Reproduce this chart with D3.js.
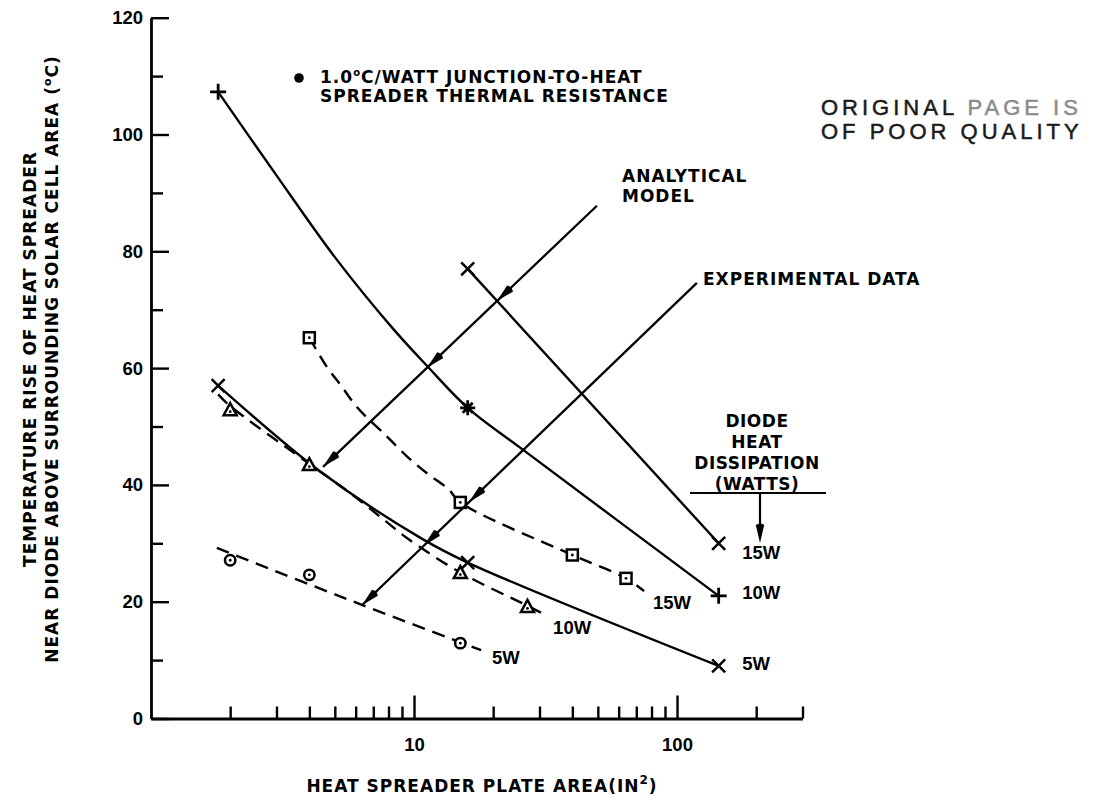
<!DOCTYPE html>
<html>
<head>
<meta charset="utf-8">
<script src="https://cdn.jsdelivr.net/npm/d3@7"></script>
<style>
  body { margin: 0; background: #fff; }
  svg text { font-family: "DejaVu Sans", sans-serif; font-weight: bold; fill: #000; font-size: 17px; letter-spacing: 1px; }
  svg text.num { font-family: "Liberation Sans", Arial, sans-serif; font-size: 18.5px; letter-spacing: 0; }
  svg text.stamp { font-family: "Liberation Sans", Arial, sans-serif; font-weight: normal; font-size: 22px;
                   letter-spacing: 4px; fill: #1a1a1a; stroke: #1a1a1a; stroke-width: 0.5px; }
</style>
</head>
<body>
<svg id="chart" width="1102" height="801"></svg>
<script>
// Temperature rise vs heat spreader plate area (log x).

const yTicks = [0, 20, 40, 60, 80, 100, 120];
const yMinorTicks = [10, 30, 50, 70, 90, 110];
const xTicks = [10, 100];
const xMinorTicks = [2, 3, 4, 5, 6, 7, 8, 9, 20, 30, 40, 50, 60, 70, 80, 90, 200, 300];

// analytical model (solid curves) and the points marked on them
const model15 = [[16, 77], [144, 30]];
const model10 = [[1.8, 107.3], [3, 93], [5, 79], [8.3, 66.8], [11.2, 60.4], [16, 53.2], [26, 46], [144, 21]];
const model5 = [[1.8, 57], [4.4, 42.3], [10.7, 30.8], [16, 26.7], [144, 9]];
const model15Marks = [[16, 77], [144, 30]];
const model10Marks = [[1.8, 107.3], [144, 21]];
const model10Star = [[16, 53.2]];
const model5Marks = [[1.8, 57], [16, 26.7], [144, 9]];

// experimental data (markers) and the dashed curves through them
const exp15 = [[4, 65.2], [15, 37], [40, 28], [64, 24]];
const exp10 = [[2, 52.8], [4, 43.4], [15, 24.9], [27, 19.1]];
const exp5 = [[2, 27.1], [4, 24.6], [15, 12.9]];
const exp15Fit = [[4, 65.2], [4.65, 60.3], [5.3, 56.9], [6.1, 53.2], [7.8, 48.5], [9.4, 44.9],
                  [11.2, 42], [13.5, 39.3], [15, 37], [40, 28], [64, 24], [75, 21.8]];
const exp10Fit = [[1.8, 55.5], [2, 53.5], [4, 43.6], [5.6, 38.9], [7.8, 33.8], [9.4, 30.9],
                  [15, 25], [27, 19.3], [32, 17.6]];
const exp5Fit = [[1.78, 29.2], [6.3, 19.5], [18, 11.7]];

// curve labels: [text, x, y] in data units (left edge, vertical centre)
const modelLabels = [["15W", 177, 28.5], ["10W", 177, 21.5], ["5W", 177, 9.5]];
const expLabels = [["15W", 81, 19.8], ["10W", 33.8, 15.5], ["5W", 19.8, 10.5]];

// leader lines from the notes, in data units, with arrow tips along them (fraction of length)
const modelPointer = [[49.6, 87.8], [4.51, 43.1]];
const modelTips = [0.365, 0.62, 1];
const expPointer = [[119, 74.6], [6.34, 19.4]];
const expTips = [0.68, 0.815, 1];

const svg = d3.select("#chart");
const x = d3.scaleLog().domain([1, 300]).range([151, 802.5]);
const y = d3.scaleLinear().domain([0, 120]).range([718.5, 17.7]);

// ---- axes
svg.append("g").attr("transform", "translate(151,0)")
  .call(d3.axisLeft(y).tickValues(yTicks).tickSize(-18).tickSizeOuter(0).tickPadding(8));
svg.append("g").attr("transform", "translate(151,0)")
  .call(d3.axisLeft(y).tickValues(yMinorTicks).tickSize(-12).tickFormat(""))
  .select(".domain").remove();
svg.append("g").attr("transform", "translate(0,718.5)")
  .call(d3.axisBottom(x).tickValues(xTicks).tickSize(-23).tickSizeOuter(0).tickPadding(19)
    .tickFormat(d3.format("d")));
svg.append("g").attr("transform", "translate(0,718.5)")
  .call(d3.axisBottom(x).tickValues(xMinorTicks).tickSize(-12).tickFormat(""))
  .select(".domain").remove();
svg.selectAll(".domain").attr("stroke-width", 2.8);
svg.selectAll(".tick line").attr("stroke-width", 2.4);
svg.selectAll(".tick text").attr("class", "num");

// axis titles
const yTitle = svg.append("g").attr("transform", "translate(0,359) rotate(-90)");
yTitle.append("text").attr("x", 0).attr("y", 36).attr("text-anchor", "middle")
  .text("TEMPERATURE RISE OF HEAT SPREADER");
const yt2 = yTitle.append("text").attr("x", 0).attr("y", 58).attr("text-anchor", "middle");
yt2.append("tspan").text("NEAR DIODE ABOVE SURROUNDING SOLAR CELL AREA (");
yt2.append("tspan").attr("dy", -7).style("font-size", "11px").text("o");
yt2.append("tspan").attr("dy", 7).text("C)");

const xt = svg.append("text").attr("x", 482).attr("y", 792).attr("text-anchor", "middle");
xt.append("tspan").text("HEAT SPREADER PLATE AREA(IN");
xt.append("tspan").attr("dy", -8).style("font-size", "12px").text("2");
xt.append("tspan").attr("dy", 8).text(")");

// ---- curves
const line = d3.line().x(d => x(d[0])).y(d => y(d[1])).curve(d3.curveCatmullRom.alpha(0.5));
const curves = svg.append("g").attr("fill", "none").attr("stroke", "#000").attr("stroke-width", 2.4);
[model15, model10, model5].forEach(s => curves.append("path").attr("d", line(s)));
[exp15Fit, exp10Fit, exp5Fit].forEach(s =>
  curves.append("path").attr("d", line(s)).attr("stroke-dasharray", "13,8"));

// ---- markers
const mk = svg.append("g").attr("stroke", "#000").attr("stroke-width", 2.5).attr("fill", "none");
function cross(d) {
  const cx = x(d[0]), cy = y(d[1]), r = 6.5;
  mk.append("path").attr("d", `M${cx - r},${cy - r}L${cx + r},${cy + r}M${cx - r},${cy + r}L${cx + r},${cy - r}`);
}
function plus(d) {
  const cx = x(d[0]), cy = y(d[1]), r = 8;
  mk.append("path").attr("d", `M${cx - r},${cy}H${cx + r}M${cx},${cy - r}V${cy + r}`).attr("stroke-width", 2.8);
}
function star(d) {
  const cx = x(d[0]), cy = y(d[1]), r = 7.5, q = 5;
  mk.append("path").attr("d",
    `M${cx - r},${cy}H${cx + r}M${cx},${cy - r}V${cy + r}M${cx - q},${cy - q}L${cx + q},${cy + q}M${cx - q},${cy + q}L${cx + q},${cy - q}`)
    .attr("stroke-width", 2.8);
}
function dot(cx, cy) {
  mk.append("circle").attr("cx", cx).attr("cy", cy).attr("r", 1.4).attr("fill", "#000").attr("stroke", "none");
}
function square(d) {
  const cx = x(d[0]), cy = y(d[1]), h = 5.5;
  mk.append("rect").attr("x", cx - h).attr("y", cy - h).attr("width", 2 * h).attr("height", 2 * h).attr("fill", "#fff");
  dot(cx, cy);
}
function triangle(d) {
  const cx = x(d[0]), cy = y(d[1]);
  mk.append("path").attr("d", `M${cx},${cy - 7}L${cx + 6.5},${cy + 5}L${cx - 6.5},${cy + 5}Z`).attr("fill", "#fff");
  dot(cx, cy + 1.5);
}
function ring(d) {
  const cx = x(d[0]), cy = y(d[1]);
  mk.append("circle").attr("cx", cx).attr("cy", cy).attr("r", 5.2).attr("fill", "#fff");
  dot(cx, cy);
}
model15Marks.forEach(cross);
model10Marks.forEach(plus);
model10Star.forEach(star);
model5Marks.forEach(cross);
exp15.forEach(square);
exp10.forEach(triangle);
exp5.forEach(ring);

// ---- curve labels
modelLabels.concat(expLabels).forEach(([t, lx, ly]) =>
  svg.append("text").attr("class", "num").attr("x", x(lx)).attr("y", y(ly) + 6.5).text(t));

// ---- leader lines with arrow heads
function head(tx, ty, ang) {
  svg.append("path").attr("d", "M0,0L-18,-4.2Q-21,0 -18,4.2Z").attr("fill", "#000")
    .attr("transform", `translate(${tx},${ty}) rotate(${ang})`);
}
function pointer(p, tips) {
  const x1 = x(p[0][0]), y1 = y(p[0][1]), x2 = x(p[1][0]), y2 = y(p[1][1]);
  svg.append("line").attr("x1", x1).attr("y1", y1).attr("x2", x2).attr("y2", y2)
    .attr("stroke", "#000").attr("stroke-width", 2.3);
  const ang = Math.atan2(y2 - y1, x2 - x1) * 180 / Math.PI;
  tips.forEach(t => head(x1 + (x2 - x1) * t, y1 + (y2 - y1) * t, ang));
}
pointer(modelPointer, modelTips);
pointer(expPointer, expTips);

// ---- notes
svg.append("circle").attr("cx", 299).attr("cy", 78).attr("r", 4.8).attr("fill", "#000");
const n1 = svg.append("text").attr("x", 320).attr("y", 83);
n1.append("tspan").text("1.0");
n1.append("tspan").attr("dy", -7).style("font-size", "10px").text("o");
n1.append("tspan").attr("dy", 7).text("C/WATT JUNCTION-TO-HEAT");
svg.append("text").attr("x", 320).attr("y", 102).text("SPREADER THERMAL RESISTANCE");

svg.append("text").attr("x", 622).attr("y", 182).text("ANALYTICAL");
svg.append("text").attr("x", 622).attr("y", 202).text("MODEL");
svg.append("text").attr("x", 703).attr("y", 285).text("EXPERIMENTAL DATA");

const st = svg.append("text").attr("class", "stamp").attr("x", 821).attr("y", 115);
st.append("tspan").text("ORIGINAL ");
st.append("tspan").style("fill", "#8c8c8c").style("stroke", "#8c8c8c").text("PAGE IS");
svg.append("text").attr("class", "stamp").attr("x", 821).attr("y", 139).text("OF POOR QUALITY");

["DIODE", "HEAT", "DISSIPATION", "(WATTS)"].forEach((t, i) =>
  svg.append("text").attr("x", 757).attr("y", 427 + i * 21).attr("text-anchor", "middle")
    .style("letter-spacing", "0.5px").text(t));
svg.append("line").attr("x1", 690).attr("x2", 826).attr("y1", 493).attr("y2", 493)
  .attr("stroke", "#000").attr("stroke-width", 2.2);
svg.append("line").attr("x1", 760).attr("x2", 760).attr("y1", 493).attr("y2", 530)
  .attr("stroke", "#000").attr("stroke-width", 2.2);
head(760, 543, 90);
</script>
</body>
</html>
